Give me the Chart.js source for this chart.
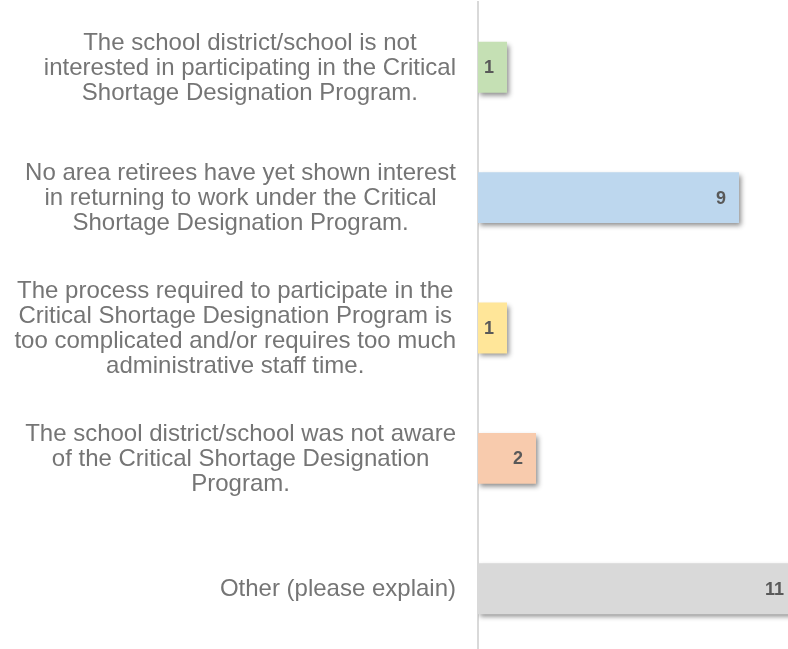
<!DOCTYPE html>
<html>
<head>
<meta charset="utf-8">
<script src="https://cdn.jsdelivr.net/npm/chart.js@4.4.1/dist/chart.umd.min.js"></script>
<style>
  html, body { margin: 0; padding: 0; background: #ffffff; overflow: hidden; width: 788px; height: 649px; }
  #wrap { position: absolute; left: 0; top: 0; width: 797px; height: 654px; }
</style>
</head>
<body>
<div id="wrap"><canvas id="c"></canvas></div>
<script>
const categories = [
  ["The school district/school is not", "interested in participating in the Critical", "Shortage Designation Program."],
  ["No area retirees have yet shown interest", "in returning to work under the Critical", "Shortage Designation Program."],
  ["The process required to participate in the", "Critical Shortage Designation Program is", "too complicated and/or requires too much", "administrative staff time."],
  ["The school district/school was not aware", "of the Critical Shortage Designation", "Program."],
  ["Other (please explain)"]
];
const values = [1, 9, 1, 2, 11];
const barColors = ["#c5e0b4", "#bdd7ee", "#ffe699", "#f8cbad", "#d9d9d9"];

const LABEL_FONT = '24px "Liberation Sans", Arial, sans-serif';
const LABEL_LINE = 25;
const VALUE_FONT = 'bold 18px "Liberation Sans", Arial, sans-serif';

const shadowPlugin = {
  id: 'barShadow',
  beforeDatasetsDraw(chart) {
    const ctx = chart.ctx;
    ctx.save();
    ctx.shadowColor = 'rgba(0,0,0,0.45)';
    ctx.shadowBlur = 5;
    ctx.shadowOffsetX = 2;
    ctx.shadowOffsetY = 3;
  },
  afterDatasetsDraw(chart) {
    chart.ctx.restore();
  }
};

const labelPlugin = {
  id: 'customLabels',
  afterDraw(chart) {
    const ctx = chart.ctx;
    const yScale = chart.scales.y;
    ctx.save();
    ctx.font = LABEL_FONT;
    ctx.fillStyle = '#757575';
    ctx.textBaseline = 'middle';
    ctx.textAlign = 'center';
    const rightEdge = chart.chartArea.left - 22;
    categories.forEach((lines, i) => {
      const yc = yScale.getPixelForTick(i) + 1;
      let maxW = 0;
      lines.forEach(l => { maxW = Math.max(maxW, ctx.measureText(l).width); });
      const xc = rightEdge - maxW / 2;
      const y0 = yc - (lines.length - 1) * LABEL_LINE / 2;
      lines.forEach((l, k) => ctx.fillText(l, xc, y0 + k * LABEL_LINE));
    });
    ctx.font = VALUE_FONT;
    ctx.fillStyle = '#595959';
    ctx.textAlign = 'right';
    const meta = chart.getDatasetMeta(0);
    meta.data.forEach((bar, i) => {
      ctx.fillText(String(values[i]), bar.x - 13, bar.y + 1);
    });
    ctx.restore();
  }
};

new Chart(document.getElementById('c'), {
  type: 'bar',
  data: {
    labels: categories,
    datasets: [{
      data: values,
      backgroundColor: barColors,
      borderWidth: 0,
      categoryPercentage: 1.0,
      barPercentage: 0.39
    }]
  },
  options: {
    indexAxis: 'y',
    responsive: true,
    maintainAspectRatio: false,
    devicePixelRatio: 1,
    animation: false,
    layout: { padding: { top: 2, right: 0, bottom: 0, left: 0 } },
    plugins: { legend: { display: false }, tooltip: { enabled: false } },
    scales: {
      x: { display: false, min: 0, max: 11 },
      y: {
        grid: { display: false },
        border: { display: true, color: '#d9d9d9', width: 2 },
        ticks: { display: false },
        afterFit(scale) { scale.width = 478; }
      }
    }
  },
  plugins: [shadowPlugin, labelPlugin]
});
</script>
</body>
</html>
